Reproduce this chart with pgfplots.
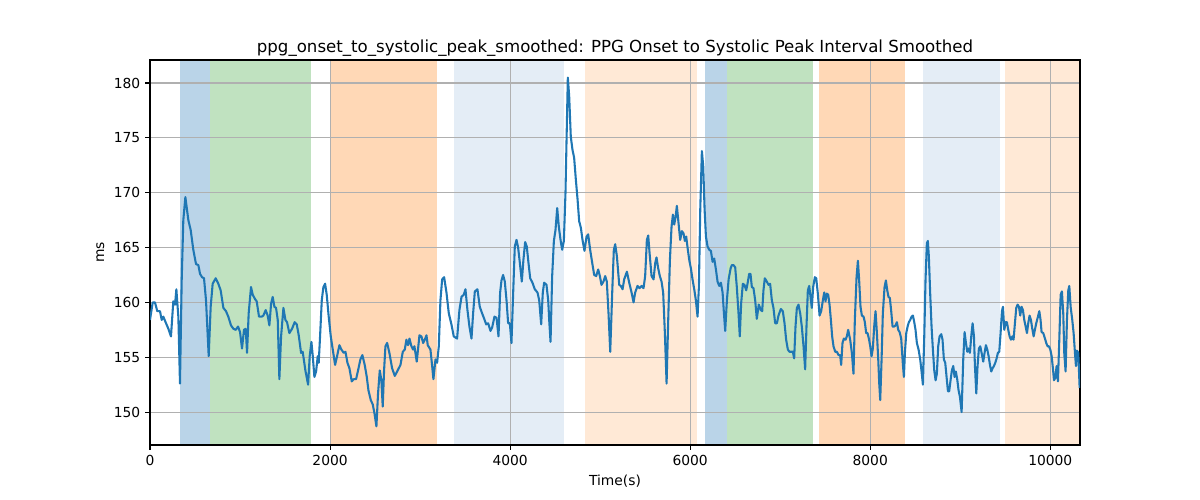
\documentclass[border=0pt]{standalone}
\usepackage{pgfplots}
\pgfplotsset{compat=1.18}
\usepackage{fontspec}
\setmainfont{DejaVu Sans}
\definecolor{tabblue}{HTML}{1F77B4}
\definecolor{spanblue}{RGB}{186,212,232}
\definecolor{spangreen}{RGB}{192,226,192}
\definecolor{spanorange}{RGB}{255,216,182}
\definecolor{spanlblue}{RGB}{228,237,246}
\definecolor{spanlorange}{RGB}{255,233,214}
\definecolor{gridgray}{RGB}{176,176,176}
\begin{document}
\begin{tikzpicture}
\path (-1.5in,-0.55in) rectangle (10.5in,4.45in);
\begin{axis}[
  at={(0,0)}, anchor=south west,
  scale only axis, width=9.3in, height=3.85in,
  xmin=0, xmax=10330, ymin=147, ymax=182.1,
  set layers, clip mode=individual,
  xtick={0,2000,4000,6000,8000,10000},
  ytick={150,155,160,165,170,175,180},
  scaled ticks=false,
  /pgf/number format/.cd, set thousands separator={}, assume math mode=true, /pgfplots/.cd,
  tick pos=left, tick align=outside, major tick length=3.5pt,
  tick style={line width=0.8pt, black},
  axis line style={line width=0.8pt, black},
  grid=major, grid style={color=gridgray, line width=0.8pt},
  tick label style={font=\fontsize{10}{12}\selectfont},
  label style={font=\fontsize{10}{12}\selectfont},
  title style={font=\fontsize{12}{14}\selectfont, yshift=-7pt},
  title={ppg\_onset\_to\_systolic\_peak\_smoothed: PPG Onset to Systolic Peak Interval Smoothed},
  xlabel={Time(s)}, ylabel={ms},
]
\addplot[fill=spanblue, draw=none, on layer=axis background, forget plot] coordinates {(333,140) (667,140) (667,190) (333,190)} -- cycle;
\addplot[fill=spangreen, draw=none, on layer=axis background, forget plot] coordinates {(667,140) (1789,140) (1789,190) (667,190)} -- cycle;
\addplot[fill=spanorange, draw=none, on layer=axis background, forget plot] coordinates {(2000,140) (3189,140) (3189,190) (2000,190)} -- cycle;
\addplot[fill=spanlblue, draw=none, on layer=axis background, forget plot] coordinates {(3378,140) (4600,140) (4600,190) (3378,190)} -- cycle;
\addplot[fill=spanlorange, draw=none, on layer=axis background, forget plot] coordinates {(4833,140) (6078,140) (6078,190) (4833,190)} -- cycle;
\addplot[fill=spanblue, draw=none, on layer=axis background, forget plot] coordinates {(6167,140) (6411,140) (6411,190) (6167,190)} -- cycle;
\addplot[fill=spangreen, draw=none, on layer=axis background, forget plot] coordinates {(6411,140) (7367,140) (7367,190) (6411,190)} -- cycle;
\addplot[fill=spanorange, draw=none, on layer=axis background, forget plot] coordinates {(7433,140) (8389,140) (8389,190) (7433,190)} -- cycle;
\addplot[fill=spanlblue, draw=none, on layer=axis background, forget plot] coordinates {(8589,140) (9444,140) (9444,190) (8589,190)} -- cycle;
\addplot[fill=spanlorange, draw=none, on layer=axis background, forget plot] coordinates {(9500,140) (10400,140) (10400,190) (9500,190)} -- cycle;
\addplot[color=tabblue, line width=1.5pt, mark=none, line join=round] coordinates {
(0,158.4) (30,160.0) (55,160.0) (81,159.2) (111,159.2) (130,158.4) (148,158.7) (178,158.1) (204,157.6) (233,156.9)
(259,160.1) (278,159.8) (293,161.2) (304,159.9) (315,158.7) (333,152.6) (352,162.0) (370,167.5) (393,169.6) (407,168.7)
(426,167.5) (452,166.6) (481,164.8) (511,163.5) (537,163.4) (556,162.6) (578,162.3) (600,162.2) (622,160.2) (652,155.1)
(674,159.6) (696,161.7) (730,162.2) (759,161.7) (785,161.1) (815,159.5) (844,159.2) (870,158.7) (900,157.9) (926,157.6)
(952,157.5) (978,157.8) (1000,157.3) (1022,155.8) (1044,157.5) (1063,157.6) (1078,155.4) (1096,159.0) (1122,161.4) (1141,160.7)
(1167,160.3) (1185,160.1) (1211,158.7) (1241,158.7) (1259,158.8) (1285,159.3) (1307,158.8) (1326,157.9) (1345,159.9) (1363,160.5)
(1382,159.6) (1400,159.5) (1419,158.4) (1437,153.0) (1456,156.9) (1482,159.5) (1504,158.4) (1522,158.2) (1548,157.2) (1578,157.6)
(1607,158.2) (1630,158.0) (1652,157.0) (1678,155.4) (1696,155.5) (1726,153.8) (1756,152.5) (1774,155.1) (1793,156.4) (1808,155.1)
(1826,153.2) (1845,153.7) (1863,155.1) (1874,154.5) (1889,156.9) (1908,160.2) (1926,161.4) (1945,161.7) (1963,160.7) (1985,158.7)
(2008,156.9) (2030,155.7) (2056,154.3) (2078,155.1) (2104,156.1) (2126,155.7) (2152,155.4) (2171,155.5) (2193,154.5) (2215,154.0)
(2241,152.8) (2263,153.0) (2289,153.0) (2311,153.8) (2337,154.8) (2359,155.2) (2385,154.3) (2408,153.2) (2426,152.0) (2452,151.1)
(2474,150.7) (2493,149.9) (2515,148.7) (2533,151.7) (2552,153.8) (2570,152.9) (2585,150.5) (2600,153.8) (2615,156.0) (2634,156.3)
(2659,155.4) (2689,154.0) (2719,153.3) (2745,153.7) (2782,154.3) (2808,155.5) (2830,155.7) (2848,156.6) (2867,156.1) (2882,156.7)
(2904,156.0) (2922,155.7) (2937,156.0) (2963,154.6) (2993,157.0) (3015,156.9) (3034,156.3) (3052,156.6) (3071,157.0) (3085,156.1)
(3115,155.7) (3134,154.2) (3148,153.0) (3171,154.8) (3189,154.5) (3208,156.0) (3226,160.2) (3245,162.1) (3267,162.3) (3293,160.9)
(3319,159.0) (3348,158.0) (3374,156.9) (3411,156.7) (3437,159.3) (3460,160.5) (3485,160.7) (3504,161.2) (3526,159.3) (3548,157.8)
(3571,156.7) (3589,159.0) (3608,161.0) (3637,161.2) (3663,159.6) (3689,159.0) (3708,158.6) (3734,158.0) (3756,158.1) (3782,157.4)
(3800,157.7) (3826,158.7) (3849,158.6) (3871,156.9) (3889,160.9) (3904,162.0) (3922,162.5) (3941,161.9) (3960,160.2) (3978,158.1)
(3997,158.1) (4015,156.3) (4034,160.9) (4052,165.1) (4071,165.7) (4089,165.0) (4108,163.6) (4130,161.9) (4148,163.9) (4167,165.5)
(4185,165.1) (4204,163.6) (4223,162.2) (4248,161.8) (4274,161.2) (4304,160.9) (4323,160.2) (4345,158.0) (4363,160.9) (4378,161.8)
(4404,161.6) (4423,160.2) (4434,158.4) (4449,156.4) (4467,162.4) (4486,165.6) (4504,166.6) (4523,168.6) (4541,166.9) (4560,165.7)
(4578,164.8) (4597,165.6) (4615,170.0) (4626,174.5) (4641,180.5) (4656,178.8) (4674,175.1) (4693,173.9) (4711,173.2) (4730,171.2)
(4749,169.4) (4767,167.4) (4786,166.8) (4804,165.7) (4826,164.7) (4849,166.0) (4867,166.2) (4889,164.8) (4912,163.6) (4934,162.5)
(4956,162.4) (4978,163.0) (4997,162.4) (5015,161.6) (5037,161.9) (5056,162.4) (5074,161.9) (5093,159.0) (5112,155.5) (5134,160.9)
(5152,164.8) (5167,165.3) (5186,164.2) (5212,161.6) (5230,161.5) (5249,161.2) (5267,162.1) (5297,162.8) (5323,161.8) (5349,160.9)
(5371,160.0) (5389,160.9) (5415,161.5) (5437,161.3) (5460,161.5) (5482,161.3) (5500,162.4) (5519,165.7) (5534,166.1) (5549,164.5)
(5571,162.4) (5593,162.1) (5612,163.6) (5626,164.1) (5645,163.1) (5663,162.4) (5682,161.9) (5700,160.9) (5719,157.2) (5738,152.6)
(5756,158.4) (5775,163.9) (5793,166.9) (5808,168.0) (5823,167.1) (5838,167.8) (5852,168.8) (5871,167.2) (5889,165.7) (5908,166.5)
(5926,166.3) (5941,165.6) (5956,166.0) (5971,165.0) (5989,163.9) (6008,163.1) (6026,162.1) (6045,161.2) (6063,160.2) (6082,158.7)
(6097,161.5) (6112,168.5) (6130,173.8) (6145,172.4) (6160,168.5) (6175,166.0) (6193,165.1) (6212,164.8) (6230,164.7) (6249,163.7)
(6267,164.0) (6286,163.0) (6304,161.9) (6323,161.5) (6341,161.8) (6360,160.9) (6375,159.0) (6389,157.4) (6408,160.2) (6427,162.1)
(6449,163.1) (6463,163.4) (6481,163.4) (6500,163.2) (6518,161.4) (6537,159.0) (6551,156.9) (6566,159.9) (6585,161.7) (6603,161.6)
(6622,161.1) (6637,161.7) (6655,162.6) (6670,162.6) (6685,161.4) (6703,161.3) (6722,160.2) (6740,158.5) (6762,159.8) (6785,159.3)
(6800,159.2) (6814,161.1) (6829,162.2) (6851,161.9) (6870,161.6) (6888,161.7) (6907,160.2) (6925,159.5) (6944,158.1) (6963,158.1)
(6981,158.8) (7007,159.4) (7029,159.2) (7048,158.1) (7066,156.6) (7085,155.7) (7103,155.5) (7122,155.5) (7140,155.5) (7155,154.9)
(7170,157.8) (7185,159.5) (7203,159.8) (7222,159.0) (7240,157.8) (7259,156.0) (7277,153.9) (7292,157.8) (7307,161.1) (7322,161.5)
(7337,160.5) (7351,159.5) (7366,161.4) (7385,162.3) (7400,162.2) (7418,160.8) (7437,158.8) (7455,159.2) (7474,160.2) (7489,160.9)
(7503,160.1) (7518,160.8) (7533,160.7) (7548,159.8) (7563,158.4) (7577,156.9) (7592,156.0) (7611,155.5) (7629,155.5) (7648,155.2)
(7666,155.2) (7677,154.3) (7692,156.3) (7707,156.7) (7726,156.6) (7740,156.9) (7755,157.5) (7777,156.6) (7796,155.4) (7814,153.5)
(7829,158.4) (7848,162.3) (7863,163.8) (7877,162.0) (7892,159.6) (7907,158.8) (7926,158.7) (7940,158.2) (7955,157.2) (7970,157.2)
(7985,156.7) (8000,156.0) (8015,155.1) (8029,155.8) (8044,157.8) (8059,159.2) (8074,157.2) (8089,154.8) (8100,152.6) (8111,151.1)
(8126,154.8) (8140,159.0) (8159,161.4) (8174,162.0) (8189,161.1) (8203,160.5) (8218,160.4) (8233,159.2) (8248,157.8) (8266,157.8)
(8281,157.9) (8296,158.2) (8311,157.5) (8326,157.3) (8344,156.7) (8363,154.3) (8374,153.2) (8385,155.4) (8400,157.2) (8415,157.8)
(8429,158.2) (8444,158.4) (8459,158.7) (8474,158.8) (8489,158.2) (8503,157.5) (8518,156.3) (8537,155.7) (8555,154.8) (8570,153.7)
(8585,152.5) (8600,156.9) (8614,162.0) (8629,165.4) (8640,165.6) (8651,164.2) (8666,160.8) (8681,157.8) (8696,155.7) (8711,153.8)
(8726,152.9) (8740,153.5) (8755,156.0) (8770,156.9) (8789,157.1) (8803,156.6) (8818,154.8) (8833,154.5) (8848,153.2) (8863,151.9)
(8877,151.9) (8892,152.9) (8907,153.8) (8922,154.2) (8937,153.2) (8951,153.7) (8966,153.0) (8981,152.0) (8996,151.4) (9015,150.0)
(9033,154.8) (9048,157.3) (9063,156.3) (9078,155.5) (9092,155.8) (9107,155.4) (9122,156.9) (9137,158.1) (9152,156.9) (9163,154.2)
(9178,151.7) (9192,154.2) (9207,155.8) (9222,156.0) (9237,155.4) (9255,154.6) (9270,155.4) (9285,156.1) (9300,155.7) (9315,155.1)
(9330,154.3) (9344,153.7) (9359,154.0) (9374,154.2) (9389,154.5) (9404,154.9) (9418,155.4) (9433,155.5) (9448,157.2) (9463,159.2)
(9474,159.6) (9489,157.5) (9504,158.2) (9518,158.2) (9533,157.5) (9548,156.9) (9563,156.6) (9578,156.9) (9592,156.6) (9607,158.1)
(9622,159.5) (9637,159.8) (9652,159.6) (9666,158.8) (9681,159.6) (9696,159.3) (9711,158.4) (9726,157.8) (9741,157.2) (9755,158.1)
(9770,158.8) (9785,158.4) (9800,157.6) (9815,156.9) (9829,157.5) (9844,158.1) (9863,158.7) (9878,159.2) (9892,158.4) (9903,157.3)
(9922,157.2) (9941,156.7) (9955,156.3) (9970,156.0) (9985,156.0) (10000,155.7) (10015,155.1) (10029,154.0) (10041,152.9) (10055,153.1)
(10070,154.2) (10085,152.8) (10100,156.6) (10115,160.7) (10129,161.0) (10144,159.0) (10155,155.4) (10170,153.7) (10185,158.4) (10200,161.1)
(10211,161.5) (10226,159.6) (10244,158.4) (10259,157.2) (10274,155.4) (10285,154.2) (10296,155.6) (10311,155.4) (10326,152.2)
};
\end{axis}
\end{tikzpicture}
\end{document}
